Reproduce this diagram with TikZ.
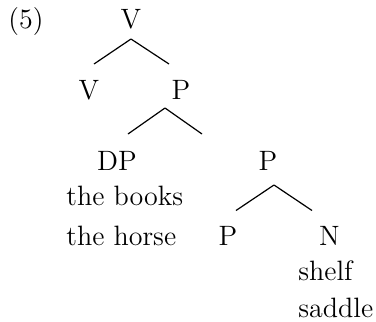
\documentclass[tikz,border=0pt]{standalone}
\tikzset{
	cat/.style={inner sep=0pt, anchor=base},
	words/.style={inner sep=0pt, anchor=base west},
	branch/.style={line width=0.6pt}
}
\begin{document}
\begin{tikzpicture}[x=0.5pt, y=-0.5pt, font=\fontsize{14}{17}\selectfont]
		\useasboundingbox (0,0) rectangle (376,322);

		\node[words] (ex) at(8, 28){(5)};

		\node[cat] (vtop) at(131, 28){V};
		\node[cat] (vleft) at(89, 99){V};
		\node[cat] (pmid) at(181, 99){P};
		\node[cat] (dp) at(117, 170){DP};
		\node[cat] (pright) at(268, 170){P};
		\node[cat] (plow) at(228, 245){P};
		\node[cat] (n) at(329.5, 245){N};

		\node[words] (books) at(66, 205){the books};
		\node[words] (horse) at(66, 245){the horse};
		\node[words] (shelf) at(298, 280){shelf};
		\node[words] (saddle) at(298, 317){saddle};

		\coordinate (vtop-a) at(131, 39);
			\coordinate (vleft-t) at(94, 64);
			\coordinate (pmid-t) at(169, 64);
		\coordinate (pmid-a) at(165, 108);
			\coordinate (dp-t) at(128, 134);
			\coordinate (pright-u) at(202, 134);
		\coordinate (pright-a) at(274, 185);
			\coordinate (plow-t) at(236, 210.5);
			\coordinate (n-t) at(312, 210.5);

		\draw[branch](vtop-a) to (vleft-t);
		\draw[branch](vtop-a) to (pmid-t);
		\draw[branch](pmid-a) to (dp-t);
		\draw[branch](pmid-a) to (pright-u);
		\draw[branch](pright-a) to (plow-t);
		\draw[branch](pright-a) to (n-t);
	\end{tikzpicture}
\end{document}
